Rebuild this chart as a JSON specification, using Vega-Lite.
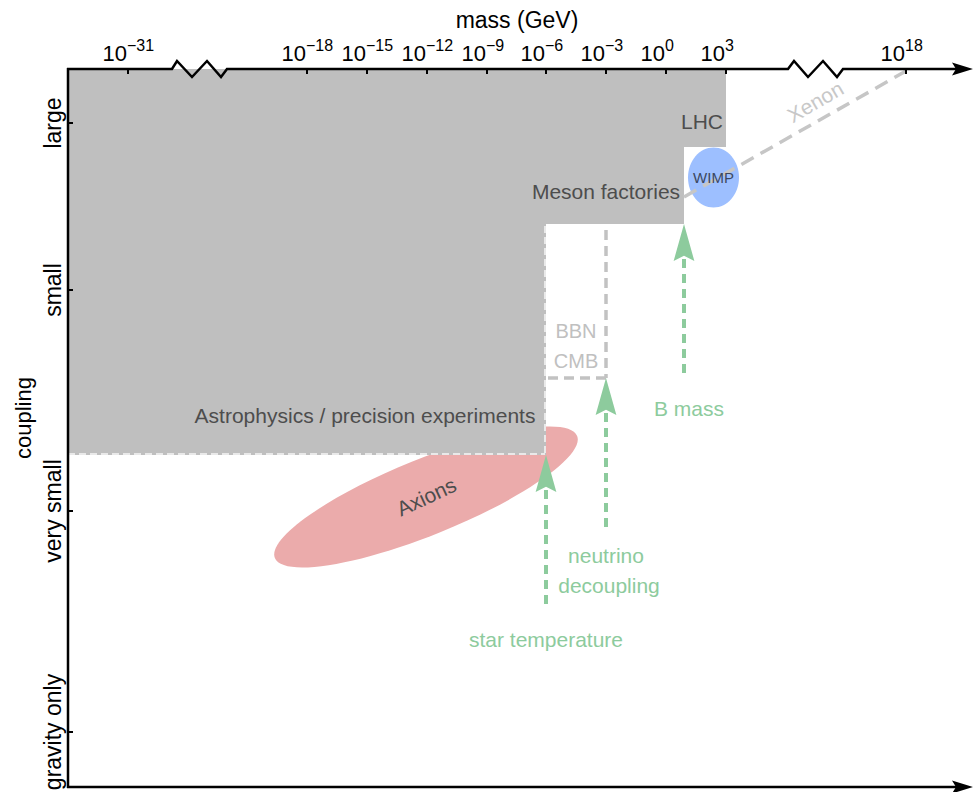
{
  "$schema": "https://vega.github.io/schema/vega-lite/v6.json",
  "width": 978,
  "height": 792,
  "autosize": {"type": "none"},
  "padding": 0,
  "background": "white",
  "config": {"view": {"stroke": null}, "text": {"font": "Liberation Sans"}},
  "encoding": {
    "x": {"field": "u", "type": "quantitative", "scale": {"domain": [0, 978], "nice": false, "zero": false}, "axis": null},
    "y": {"field": "v", "type": "quantitative", "scale": {"domain": [0, 792], "nice": false, "zero": false, "reverse": true}, "axis": null}
  },
  "layer": [
    {
      "data": {"values": [{"u": 426, "v": 497, "name": "Axions"}]},
      "mark": {"type": "point", "filled": true, "opacity": 1, "strokeWidth": 0, "color": "#ebabab", "size": 106276, "angle": 338,
        "shape": "M-1,0C-1,-0.1287,-0.5523,-0.233,0,-0.233C0.5523,-0.233,1,-0.1287,1,0C1,0.1287,0.5523,0.233,0,0.233C-0.5523,0.233,-1,0.1287,-1,0Z"}
    },
    {
      "data": {"values": [
        {"u": 68, "u2": 726, "v": 69, "v2": 147},
        {"u": 68, "u2": 684, "v": 69, "v2": 224},
        {"u": 68, "u2": 546, "v": 69, "v2": 455}
      ]},
      "mark": {"type": "rect", "color": "#bfbfbf", "opacity": 1, "strokeWidth": 0},
      "encoding": {"x2": {"field": "u2"}, "y2": {"field": "v2"}}
    },
    {
      "data": {"values": [
        {"u": 545, "v": 226, "u2": 545, "v2": 454},
        {"u": 68, "v": 454, "u2": 545, "v2": 454}
      ]},
      "mark": {"type": "rule", "color": "#e9e9e9", "strokeWidth": 2, "strokeDash": [7, 4]},
      "encoding": {"x2": {"field": "u2"}, "y2": {"field": "v2"}}
    },
    {
      "data": {"values": [
        {"u": 606, "v": 230, "u2": 606, "v2": 378},
        {"u": 548, "v": 378, "u2": 606, "v2": 378}
      ]},
      "mark": {"type": "rule", "color": "#c2c2c2", "strokeWidth": 3.5, "strokeDash": [10, 6]},
      "encoding": {"x2": {"field": "u2"}, "y2": {"field": "v2"}}
    },
    {
      "data": {"values": [
        {"u": 546, "v": 490, "v2": 610},
        {"u": 606, "v": 413, "v2": 532},
        {"u": 684, "v": 259, "v2": 378}
      ]},
      "mark": {"type": "rule", "color": "#8dcb9d", "strokeWidth": 4, "strokeDash": [9, 6]},
      "encoding": {"y2": {"field": "v2"}}
    },
    {
      "data": {"values": [
        {"u": 546, "v": 473.5},
        {"u": 606, "v": 396.5},
        {"u": 684, "v": 242.5}
      ]},
      "mark": {"type": "point", "filled": true, "opacity": 1, "strokeWidth": 0, "color": "#8dcb9d", "size": 1369,
        "shape": "M0,-1L0.56,1L0,0.72L-0.56,1Z"}
    },
    {
      "data": {"values": [{"u": 713.5, "v": 177.5, "name": "WIMP"}]},
      "mark": {"type": "point", "filled": true, "opacity": 1, "strokeWidth": 0, "color": "#9dbfff", "size": 3600,
        "shape": "M-0.85,0C-0.85,-0.5523,-0.4695,-1,0,-1C0.4695,-1,0.85,-0.5523,0.85,0C0.85,0.5523,0.4695,1,0,1C-0.4695,1,-0.85,0.5523,-0.85,0Z"}
    },
    {
      "data": {"values": [{"u": 684, "v": 197, "u2": 906, "v2": 71}]},
      "mark": {"type": "rule", "color": "#c6c6c6", "strokeWidth": 3.5, "strokeDash": [14, 8]},
      "encoding": {"x2": {"field": "u2"}, "y2": {"field": "v2"}}
    },
    {
      "data": {"values": [
        {"u": 702, "v": 123, "t": "LHC"},
        {"u": 606, "v": 193, "t": "Meson factories"},
        {"u": 365, "v": 417, "t": "Astrophysics / precision experiments"}
      ]},
      "mark": {"type": "text", "fontSize": 21, "color": "#4d4d4d", "align": "center", "baseline": "middle"},
      "encoding": {"text": {"field": "t"}}
    },
    {
      "data": {"values": [{"u": 427, "v": 498, "t": "Axions"}]},
      "mark": {"type": "text", "fontSize": 21, "color": "#4d4d4d", "align": "center", "baseline": "middle", "angle": 335},
      "encoding": {"text": {"field": "t"}}
    },
    {
      "data": {"values": [{"u": 816, "v": 103, "t": "Xenon"}]},
      "mark": {"type": "text", "fontSize": 21, "color": "#c8c8c8", "align": "center", "baseline": "middle", "angle": 330},
      "encoding": {"text": {"field": "t"}}
    },
    {
      "data": {"values": [{"u": 576, "v": 332, "t": "BBN"}, {"u": 576, "v": 362, "t": "CMB"}]},
      "mark": {"type": "text", "fontSize": 20, "color": "#c0c0c0", "align": "center", "baseline": "middle"},
      "encoding": {"text": {"field": "t"}}
    },
    {
      "data": {"values": [
        {"u": 689, "v": 410, "t": "B mass"},
        {"u": 606, "v": 557, "t": "neutrino"},
        {"u": 609, "v": 587, "t": "decoupling"},
        {"u": 546, "v": 641, "t": "star temperature"}
      ]},
      "mark": {"type": "text", "fontSize": 21, "color": "#8dcb9d", "align": "center", "baseline": "middle"},
      "encoding": {"text": {"field": "t"}}
    },
    {
      "data": {"values": [{"u": 713.5, "v": 178, "t": "WIMP"}]},
      "mark": {"type": "text", "fontSize": 15, "color": "#3c4860", "align": "center", "baseline": "middle"},
      "encoding": {"text": {"field": "t"}}
    },
    {
      "data": {"values": [
        {"u": 68, "v": 68, "u2": 68, "v2": 788},
        {"u": 67, "v": 69, "u2": 162, "v2": 69},
        {"u": 236, "v": 69, "u2": 779, "v2": 69},
        {"u": 852, "v": 69, "u2": 956, "v2": 69},
        {"u": 67, "v": 787, "u2": 956, "v2": 787}
      ]},
      "mark": {"type": "rule", "color": "#000000", "strokeWidth": 2.5},
      "encoding": {"x2": {"field": "u2"}, "y2": {"field": "v2"}}
    },
    {
      "data": {"values": [
        {"g": 1, "i": 1, "u": 162, "v": 69}, {"g": 1, "i": 2, "u": 172, "v": 69}, {"g": 1, "i": 3, "u": 177, "v": 61},
        {"g": 1, "i": 4, "u": 192, "v": 77}, {"g": 1, "i": 5, "u": 207, "v": 61}, {"g": 1, "i": 6, "u": 221, "v": 77},
        {"g": 1, "i": 7, "u": 227, "v": 69}, {"g": 1, "i": 8, "u": 236, "v": 69},
        {"g": 2, "i": 1, "u": 779, "v": 69}, {"g": 2, "i": 2, "u": 788, "v": 69}, {"g": 2, "i": 3, "u": 794, "v": 61},
        {"g": 2, "i": 4, "u": 808, "v": 77}, {"g": 2, "i": 5, "u": 823, "v": 61}, {"g": 2, "i": 6, "u": 837, "v": 77},
        {"g": 2, "i": 7, "u": 843, "v": 69}, {"g": 2, "i": 8, "u": 852, "v": 69}
      ]},
      "mark": {"type": "line", "color": "#000000", "strokeWidth": 2.5, "strokeJoin": "miter"},
      "encoding": {"detail": {"field": "g"}, "order": {"field": "i", "type": "quantitative"}}
    },
    {
      "data": {"values": [{"u": 962.5, "v": 69}, {"u": 962.5, "v": 787}]},
      "mark": {"type": "point", "filled": true, "opacity": 1, "strokeWidth": 0, "color": "#000000", "size": 441,
        "shape": "M1,0L-1,-0.62L-0.62,0L-1,0.62Z"}
    },
    {
      "data": {"values": [
        {"u": 128, "v": 69, "v2": 74, "e": "−31"},
        {"u": 307, "v": 69, "v2": 74, "e": "−18"},
        {"u": 367, "v": 69, "v2": 74, "e": "−15"},
        {"u": 427, "v": 69, "v2": 74, "e": "−12"},
        {"u": 487, "v": 69, "v2": 74, "e": "−9"},
        {"u": 546, "v": 69, "v2": 74, "e": "−6"},
        {"u": 606, "v": 69, "v2": 74, "e": "−3"},
        {"u": 666, "v": 69, "v2": 74, "e": "0"},
        {"u": 726, "v": 69, "v2": 74, "e": "3"},
        {"u": 906, "v": 69, "v2": 74, "e": "18"}
      ]},
      "layer": [
        {"mark": {"type": "rule", "color": "#000000", "strokeWidth": 2}, "encoding": {"y2": {"field": "v2"}}},
        {"mark": {"type": "text", "fontSize": 22, "color": "#000000", "align": "right", "baseline": "alphabetic", "dy": -8, "dx": -1, "text": "10"}},
        {"mark": {"type": "text", "fontSize": 16, "color": "#000000", "align": "left", "baseline": "alphabetic", "dy": -18, "dx": -1}, "encoding": {"text": {"field": "e"}}}
      ]
    },
    {
      "data": {"values": [
        {"u": 68, "u2": 73, "v": 123, "t": "large"},
        {"u": 68, "u2": 73, "v": 290, "t": "small"},
        {"u": 68, "u2": 73, "v": 511, "t": "very small"},
        {"u": 68, "u2": 73, "v": 732, "t": "gravity only"}
      ]},
      "layer": [
        {"mark": {"type": "rule", "color": "#000000", "strokeWidth": 2}, "encoding": {"x2": {"field": "u2"}}},
        {"mark": {"type": "text", "fontSize": 23, "color": "#000000", "align": "center", "baseline": "alphabetic", "angle": 270, "dy": -7}, "encoding": {"text": {"field": "t"}}}
      ]
    },
    {
      "data": {"values": [{"u": 517, "v": 28, "t": "mass (GeV)"}]},
      "mark": {"type": "text", "fontSize": 23, "color": "#000000", "align": "center", "baseline": "alphabetic"},
      "encoding": {"text": {"field": "t"}}
    },
    {
      "data": {"values": [{"u": 31, "v": 418, "t": "coupling"}]},
      "mark": {"type": "text", "fontSize": 22, "color": "#000000", "align": "center", "baseline": "alphabetic", "angle": 270},
      "encoding": {"text": {"field": "t"}}
    }
  ]
}
